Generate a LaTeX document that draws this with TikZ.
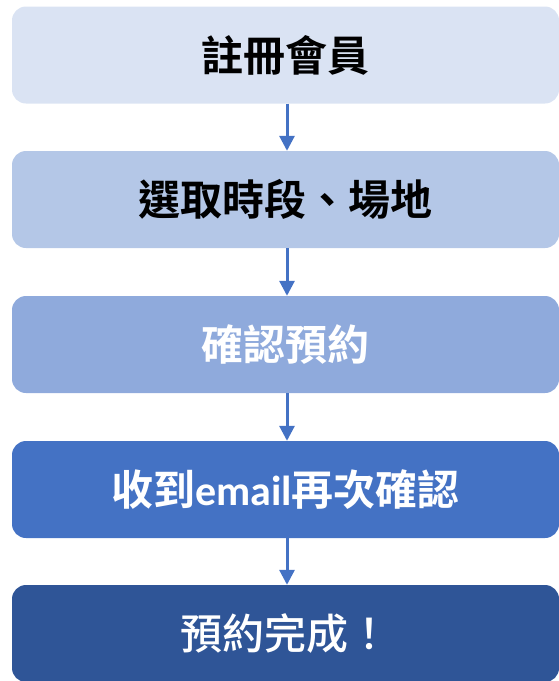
\documentclass[tikz,border=0pt]{standalone}
\usepackage{fontspec}
\setmainfont{Noto Sans CJK TC}[BoldFont={Noto Sans CJK TC Bold}]
\newfontfamily\medcjk{Noto Sans CJK TC Medium}
\newfontfamily\lat{Carlito}
\usetikzlibrary{arrows.meta}
\definecolor{c1}{HTML}{DAE3F3}
\definecolor{c2}{HTML}{B4C7E7}
\definecolor{c3}{HTML}{8FAADC}
\definecolor{c4}{HTML}{4472C4}
\definecolor{c5}{HTML}{2F5597}
\definecolor{arr}{HTML}{4472C4}
\begin{document}
\begin{tikzpicture}[x=1pt,y=-1pt,
  stepbox/.style={rounded corners=14pt, minimum width=547pt, minimum height=97pt, inner sep=0pt, font=\fontsize{42}{48}\selectfont\bfseries},
  flow/.style={draw=arr, line width=3pt, -{Triangle[width=15pt,length=15pt]}}]
\useasboundingbox (0,0) rectangle (559,681);
\node[stepbox, fill=c1, text=black] (b1) at (285.5,55) {註冊會員};
\node[stepbox, fill=c2, text=black] (b2) at (285.5,199.5) {選取時段、場地};
\node[stepbox, fill=c3, text=white] (b3) at (285.5,344.5) {確認預約};
\node[stepbox, fill=c4, text=white] (b4) at (285.5,489.5) {收到{\lat email}再次確認};
\node[stepbox, fill=c5, text=white, font=\fontsize{42}{48}\selectfont\medcjk] (b5) at (285.5,633.5) {預約完成！};
\foreach \a/\b in {b1/b2,b2/b3,b3/b4,b4/b5}
  \draw[flow] ([xshift=1.5pt]\a.south) -- ([xshift=1.5pt]\b.north);
\end{tikzpicture}
\end{document}
